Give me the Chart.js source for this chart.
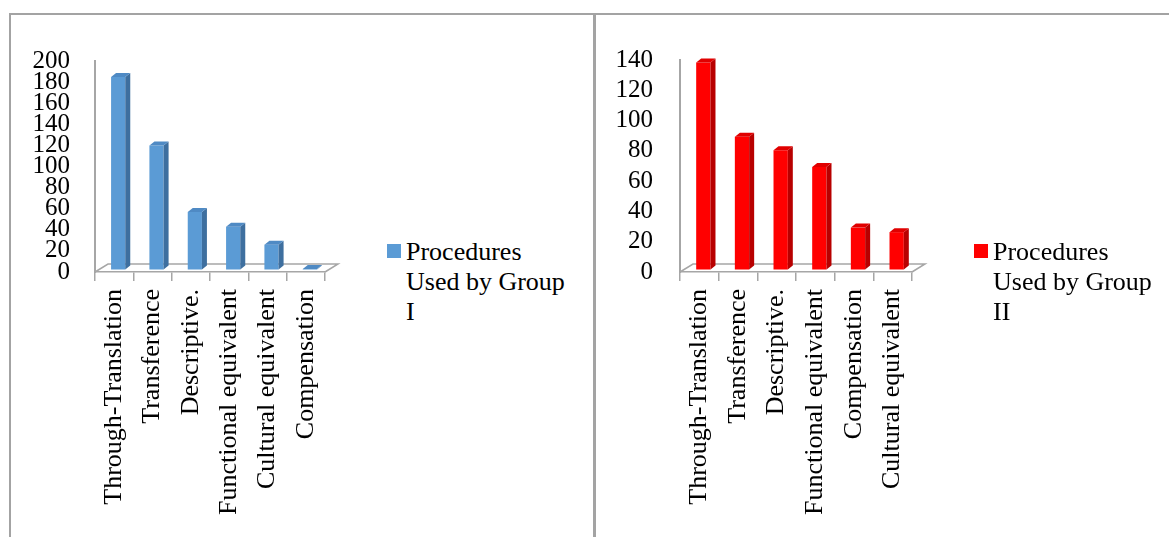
<!DOCTYPE html>
<html>
<head>
<meta charset="utf-8">
<script src="https://cdn.jsdelivr.net/npm/chart.js@4.4.1/dist/chart.umd.min.js"></script>
<style>
  html, body { margin: 0; padding: 0; background: #fff; }
  body { width: 1169px; height: 537px; position: relative; overflow: hidden;
         font-family: "Liberation Serif", "Times New Roman", serif; }
  .panel { position: absolute; top: 0; width: 380px; height: 537px; }
  .panel canvas { display: block; }
  .rule { position: absolute; background: #a3a3a3; }
  .legend { position: absolute; width: 165px; font-size: 26px; line-height: 30px; color: #000; }
  .swatch { position: absolute; width: 14px; height: 14px; }
</style>
</head>
<body>
<div class="panel" style="left:0px"><canvas id="chartGroupI" width="380" height="537"></canvas></div>
<div class="panel" style="left:596px"><canvas id="chartGroupII" width="380" height="537"></canvas></div>

<div class="swatch" style="left:387px;top:244px;background:#5b9bd5"></div>
<div class="legend" id="legendGroupI" style="left:406px;top:237px"></div>
<div class="swatch" style="left:974px;top:244px;background:#ff0000"></div>
<div class="legend" id="legendGroupII" style="left:993px;top:237px"></div>

<div class="rule" style="left:9px;top:13px;width:1160px;height:2px"></div>
<div class="rule" style="left:9px;top:13px;width:2px;height:524px"></div>
<div class="rule" style="left:593px;top:13px;width:3px;height:524px"></div>

<script>
// Translation procedures and how often each group used them
const categoriesGroupI = ['Through-Translation', 'Transference', 'Descriptive.', 'Functional equivalent', 'Cultural equivalent', 'Compensation'];
const valuesGroupI = [183, 118, 55, 41, 24, 1];
const yTicksGroupI = [0, 20, 40, 60, 80, 100, 120, 140, 160, 180, 200];

const categoriesGroupII = ['Through-Translation', 'Transference', 'Descriptive.', 'Functional equivalent', 'Compensation', 'Cultural equivalent'];
const valuesGroupII = [137, 88, 79, 68, 28, 25];
const yTicksGroupII = [0, 20, 40, 60, 80, 100, 120, 140];

const seriesNameGroupI = 'Procedures Used by Group I';
const seriesNameGroupII = 'Procedures Used by Group II';

document.getElementById('legendGroupI').textContent = seriesNameGroupI;
document.getElementById('legendGroupII').textContent = seriesNameGroupII;

// Draws a floor under the columns and gives every column a side and a top face
const columns3d = {
  id: 'columns3d',
  beforeDatasetsDraw(chart, args, o) {
    const { ctx, chartArea: { left, right, bottom } } = chart;
    ctx.save();
    ctx.strokeStyle = '#a6a6a6';
    ctx.lineWidth = 1.5;
    ctx.beginPath();
    ctx.moveTo(left, bottom);
    ctx.lineTo(left + o.floorDx, bottom + o.floorDy);
    ctx.lineTo(right + o.floorDx, bottom + o.floorDy);
    ctx.lineTo(right, bottom);
    ctx.stroke();
    ctx.restore();
  },
  beforeDatasetDraw(chart, args, o) {
    chart.ctx.save();
    chart.ctx.translate(o.shiftX, o.shiftY);
  },
  afterDatasetDraw(chart, args, o) {
    const ctx = chart.ctx;
    const dx = o.depthX, dy = o.depthY;
    args.meta.data.forEach(bar => {
      const { x, y, base, width } = bar.getProps(['x', 'y', 'base', 'width'], true);
      const l = x - width / 2, r = x + width / 2;
      ctx.fillStyle = o.sideColor;
      ctx.beginPath();
      ctx.moveTo(r, y); ctx.lineTo(r + dx, y + dy);
      ctx.lineTo(r + dx, base + dy); ctx.lineTo(r, base);
      ctx.closePath(); ctx.fill();
      ctx.fillStyle = o.topColor;
      ctx.beginPath();
      ctx.moveTo(l, y); ctx.lineTo(l + dx, y + dy);
      ctx.lineTo(r + dx, y + dy); ctx.lineTo(r, y);
      ctx.closePath(); ctx.fill();
    });
    ctx.restore();
  }
};

function makeChart(id, labels, values, yTicks, name, colors, layout) {
  const yMax = yTicks[yTicks.length - 1];
  const yStep = yTicks[1] - yTicks[0];
  return new Chart(document.getElementById(id), {
    type: 'bar',
    data: {
      labels: labels,
      datasets: [{
        label: name,
        data: values,
        backgroundColor: colors.front,
        borderWidth: 0,
        categoryPercentage: 1,
        barPercentage: 0.37
      }]
    },
    options: {
      responsive: false,
      animation: false,
      layout: { padding: { left: 0, right: layout.padRight, top: layout.padTop, bottom: 0 } },
      plugins: {
        legend: { display: false },
        tooltip: { enabled: false },
        columns3d: {
          floorDx: 13, floorDy: -8,
          shiftX: 4, shiftY: -2,
          depthX: 5, depthY: -4,
          sideColor: colors.side, topColor: colors.top
        }
      },
      scales: {
        x: {
          offset: true,
          grid: { drawOnChartArea: false, drawTicks: true, tickLength: 9, color: '#a6a6a6', lineWidth: 1.5, offset: true },
          border: { display: true, color: '#a6a6a6', width: 1.5 },
          ticks: {
            autoSkip: false, minRotation: 90, maxRotation: 90, padding: 8,
            color: '#000', font: { family: '"Liberation Serif", "Times New Roman", serif', size: 26 }
          },
          afterFit(scale) { scale.height = 537 - 272; }
        },
        y: {
          min: 0, max: yMax,
          grid: { drawOnChartArea: false, drawTicks: false },
          border: { display: true, color: '#a6a6a6', width: 2 },
          ticks: {
            autoSkip: false, stepSize: yStep, padding: layout.labelGap,
            color: '#000', font: { family: '"Liberation Serif", "Times New Roman", serif', size: 25 }
          },
          afterFit(scale) { scale.width = layout.axisX; }
        }
      }
    },
    plugins: [columns3d]
  });
}

makeChart('chartGroupI', categoriesGroupI, valuesGroupI, yTicksGroupI, seriesNameGroupI,
  { front: '#5b9bd5', side: '#3e6f9f', top: '#4f8ac4' },
  { axisX: 95, padRight: 55, padTop: 61, labelGap: 25 });

makeChart('chartGroupII', categoriesGroupII, valuesGroupII, yTicksGroupII, seriesNameGroupII,
  { front: '#ff0000', side: '#b80000', top: '#e00000' },
  { axisX: 84, padRight: 64, padTop: 60, labelGap: 27 });
</script>
</body>
</html>
